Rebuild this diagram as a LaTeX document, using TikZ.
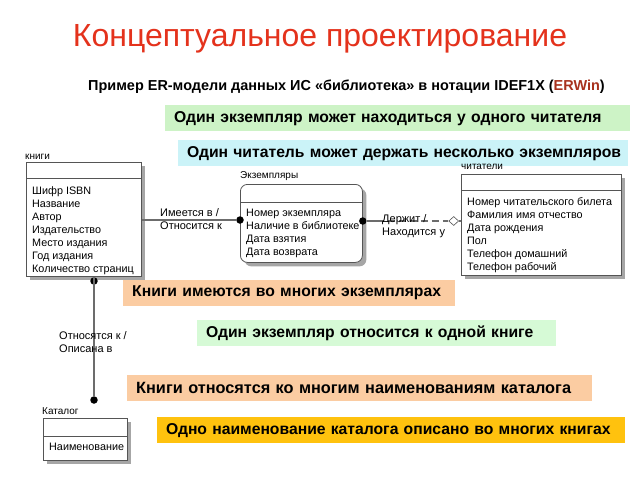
\documentclass[tikz,border=0pt]{standalone}
\usepackage{fontspec}
\setmainfont{Liberation Sans}
\usetikzlibrary{shadows,shapes.geometric}
\definecolor{titlered}{HTML}{E4321C}
\definecolor{erwin}{HTML}{A8321E}
\definecolor{cgreenA}{HTML}{CDF3C6}
\definecolor{ccyan}{HTML}{CBF3F8}
\definecolor{corange}{HTML}{FBCCA2}
\definecolor{cgreenB}{HTML}{D6FAD6}
\definecolor{cyellow}{HTML}{FFC20E}
\definecolor{eline}{HTML}{555555}
\tikzset{
  entity/.style={draw=eline, line width=0.8pt, fill=white, anchor=north west, inner sep=0pt,
    drop shadow={shadow xshift=4pt, shadow yshift=-4pt, fill=gray!70, opacity=1}},
  rentity/.style={entity, rounded corners=7pt},
  ename/.style={anchor=south west, inner sep=0pt, font=\fontsize{10}{11}\selectfont},
  attrs/.style={anchor=north west, inner sep=0pt, align=left, font=\fontsize{10.8}{13}\selectfont},
  rel/.style={anchor=north west, inner sep=0pt, align=left, font=\fontsize{11}{13}\selectfont},
  callout/.style={anchor=north west, inner xsep=9pt, inner ysep=0pt, minimum height=26pt, align=left,
    font=\bfseries\fontsize{15.7}{17}\selectfont},
  dotend/.style={circle, fill=black, inner sep=0pt, minimum size=7.5pt},
  hdiamond/.style={diamond, draw=eline, fill=white, inner sep=0pt, minimum width=10pt, minimum height=9pt, line width=0.6pt},
  conn/.style={draw=gray!85!black, line width=1.1pt}
}
\begin{document}
\begin{tikzpicture}[x=1pt,y=-1pt]
\useasboundingbox[fill=white] (0,0) rectangle (640,480);
% titles
\node[font=\fontsize{32}{35}\selectfont, text=titlered] (title) at (320,39) {Концептуальное проектирование};
\node[font=\bfseries\fontsize{14.45}{16}\selectfont, anchor=west, inner sep=0pt] (sub) at (88,87)
  {Пример ER-модели данных ИС «библиотека» в нотации IDEF1X (\textcolor{erwin}{ERWin})};
% callouts
\node[callout, fill=cgreenA, text width=447pt] (c1) at (165,105) {\mbox{Один экземпляр может находиться у одного читателя}};
\node[callout, fill=ccyan, text width=432pt] (c2) at (178,140) {\mbox{Один читатель может держать несколько экземпляров}};
% entity: книги
\node[ename] (lbooks) at (25,160) {книги};
\node[entity, minimum width=115pt, minimum height=114pt] (books) at (26,162) {};
\draw[eline, line width=0.8pt] ([yshift=-16pt]books.north west) -- ([yshift=-16pt]books.north east);
\node[attrs] (abooks) at (32,186) {Шифр ISBN\\Название\\Автор\\Издательство\\Место издания\\Год издания\\Количество страниц};
% entity: Экземпляры
\node[ename] (lcopies) at (240,181) {Экземпляры};
\node[rentity, minimum width=122pt, minimum height=78pt] (copies) at (240,184) {};
\draw[eline, line width=0.8pt] ([yshift=-18pt]copies.north west) -- ([yshift=-18pt]copies.north east);
\node[attrs] (acopies) at (246,209) {Номер экземпляра\\Наличие в библиотеке\\Дата взятия\\Дата возврата};
% entity: читатели
\node[ename] (lreaders) at (461,170) {читатели};
\node[entity, minimum width=160pt, minimum height=101pt] (readers) at (461,174) {};
\draw[eline, line width=0.8pt] ([yshift=-16pt]readers.north west) -- ([yshift=-16pt]readers.north east);
\node[attrs] (areaders) at (467,197) {Номер читательского билета\\Фамилия имя отчество\\Дата рождения\\Пол\\Телефон домашний\\Телефон рабочий};
% entity: Каталог
\node[ename] (lcat) at (42,415) {Каталог};
\node[entity, minimum width=84pt, minimum height=42pt] (cat) at (43,418) {};
\draw[eline, line width=0.8pt] ([yshift=-18pt]cat.north west) -- ([yshift=-18pt]cat.north east);
\node[attrs] (acat) at (49,443) {Наименование};
% relation books - copies
\coordinate (r1a) at (books.east |- 0,220);
\node[dotend] (d1) at (copies.west |- 0,220) {};
\draw[conn] (r1a) -- (d1);
\node[rel] (l1) at (160,208) {Имеется в /\\Относится к};
% relation copies - readers
\node[dotend] (d2) at (copies.east |- 0,221) {};
\node[hdiamond, anchor=east] (dm) at ([xshift=-2pt]readers.west |- 0,221) {};
\draw[conn] (d2) -- ++(14,0) coordinate (r2a);
\draw[conn, dash pattern=on 7pt off 4pt] (r2a) -- (dm);
\draw[conn] (dm) -- (readers.west |- 0,221);
\node[rel] (l2) at (382,214) {Держит /\\Находится у};
% relation books - catalog
\node[dotend] (d3) at (94,281) {};
\node[dotend] (d4) at (94,400) {};
\draw[conn] (books.south -| d3) -- (d4);
\node[rel] (l3) at (59,331) {Относятся к /\\Описана в};
% lower callouts
\node[callout, fill=corange, text width=314pt] (c3) at (123,280) {\mbox{Книги имеются во многих экземплярах}};
\node[callout, fill=cgreenB, text width=341pt] (c4) at (197,320) {\mbox{Один экземпляр относится к одной книге}};
\node[callout, fill=corange, text width=447pt, font=\bfseries\fontsize{16.3}{18}\selectfont] (c5) at (127,375) {\mbox{Книги относятся ко многим наименованиям каталога}};
\node[callout, fill=cyellow, text width=450pt] (c6) at (157,417) {\mbox{Одно наименование каталога описано во многих книгах}};
\end{tikzpicture}
\end{document}
